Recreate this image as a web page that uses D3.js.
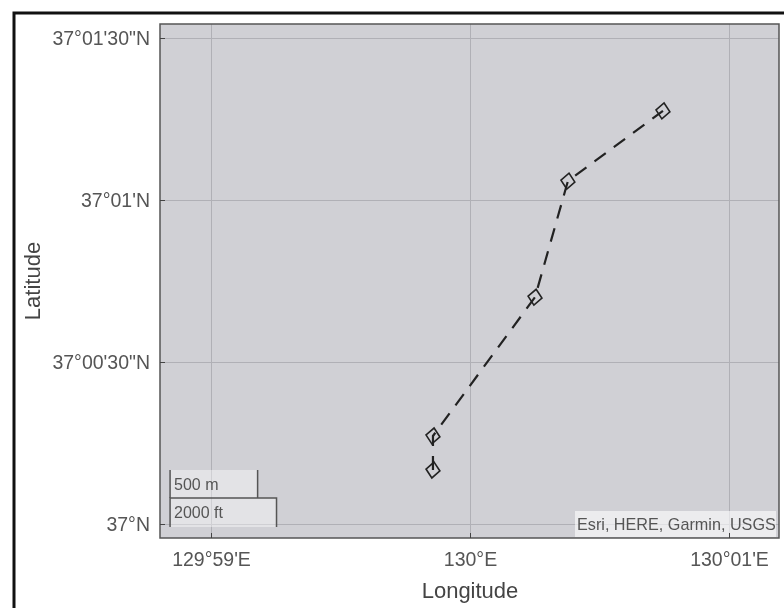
<!DOCTYPE html>
<html lang="en">
<meta charset="utf-8">
<style>
html, body { margin: 0; padding: 0; background: #fff; }
svg { display: block; filter: blur(0.6px); }
text { font-family: "Liberation Sans", Arial, sans-serif; }
.axis text { font-size: 19.5px; fill: #555; }
.axis .domain { display: none; }
.grid line { stroke: #b0b0b6; stroke-width: 1; }
.grid .domain { display: none; }
.grid text { display: none; }
.title { font-size: 22px; fill: #444; }
</style>
<body>
<svg width="784" height="608"></svg>
<script src="https://d3js.org/d3.v7.min.js"></script>
<script>

// longitude in minutes from 130E, latitude in seconds from 37N
var lonTicks = [-1, 0, 1];
var lonLabels = ["129°59'E", "130°E", "130°01'E"];
var latTicks = [0, 30, 60, 90];
var latLabels = ["37°N", "37°00'30\"N", "37°01'N", "37°01'30\"N"];

var trackLon = [-0.143, -0.143, 0.251, 0.378, 0.745];
var trackLat = [10, 16.3, 42, 63.5, 76.5];

var scaleNames = ["500 m", "2000 ft"];
var scaleLengths = [0.338, 0.411];
var credit = "Esri, HERE, Garmin, USGS";

var svg = d3.select("svg");
var plot = { left: 160, right: 779, top: 24, bottom: 538 };

var x = d3.scaleLinear().domain([-1, 1]).range([211, 729]);
var y = d3.scaleLinear().domain([0, 90]).range([524, 38]);

// outer frame of the screenshot
svg.append("path")
    .attr("d", "M14,608V13H784")
    .attr("fill", "none")
    .attr("stroke", "#111")
    .attr("stroke-width", 3);

svg.append("rect")
    .attr("x", plot.left)
    .attr("y", plot.top)
    .attr("width", plot.right - plot.left)
    .attr("height", plot.bottom - plot.top)
    .attr("fill", "#d0d0d5");

// grid
svg.append("g")
    .attr("class", "grid")
    .attr("transform", "translate(0," + plot.bottom + ")")
    .call(d3.axisBottom(x).tickValues(lonTicks).tickSize(-(plot.bottom - plot.top)));
svg.append("g")
    .attr("class", "grid")
    .attr("transform", "translate(" + plot.left + ",0)")
    .call(d3.axisLeft(y).tickValues(latTicks).tickSize(-(plot.right - plot.left)));

// scale bars, longest drawn last
var barLeft = -1.158;
var barTop = [470, 498];
var barHeight = [28, 29];
var bars = svg.append("g").selectAll("g")
    .data(scaleNames)
  .enter().append("g");

bars.append("rect")
    .attr("x", x(barLeft))
    .attr("y", function(d, i) { return barTop[i]; })
    .attr("width", function(d, i) { return x(barLeft + scaleLengths[i]) - x(barLeft); })
    .attr("height", function(d, i) { return barHeight[i]; })
    .attr("fill", "#fff")
    .attr("fill-opacity", 0.4);

bars.append("path")
    .attr("d", function(d, i) {
      var l = x(barLeft), r = x(barLeft + scaleLengths[i]), t = barTop[i], b = t + barHeight[i];
      return "M" + l + "," + b + "V" + t + (i ? "H" + r : "M" + r + "," + t) + "V" + b;
    })
    .attr("fill", "none")
    .attr("stroke", "#555")
    .attr("stroke-width", 1.5);

bars.append("text")
    .attr("x", x(barLeft) + 4)
    .attr("y", function(d, i) { return barTop[i] + 20; })
    .attr("font-size", 16)
    .attr("fill", "#555")
    .text(function(d) { return d; });

// attribution
svg.append("rect")
    .attr("x", 575)
    .attr("y", 511)
    .attr("width", 201)
    .attr("height", 26)
    .attr("fill", "#fff")
    .attr("fill-opacity", 0.6);
svg.append("text")
    .attr("x", 577)
    .attr("y", 530)
    .attr("font-size", 16.2)
    .attr("fill", "#555")
    .text(credit);

// plot border
svg.append("rect")
    .attr("x", plot.left)
    .attr("y", plot.top)
    .attr("width", plot.right - plot.left)
    .attr("height", plot.bottom - plot.top)
    .attr("fill", "none")
    .attr("stroke", "#555")
    .attr("stroke-width", 1.5);

// tick labels and the short inward ticks
var xAxis = svg.append("g")
    .attr("class", "axis")
    .attr("transform", "translate(0," + plot.bottom + ")")
    .call(d3.axisBottom(x).tickValues(lonTicks).tickSize(-5)
      .tickFormat(function(d, i) { return lonLabels[i]; }));
xAxis.selectAll("text").attr("y", 28).attr("dy", 0);
xAxis.selectAll("line").attr("stroke", "#444");

var yAxis = svg.append("g")
    .attr("class", "axis")
    .attr("transform", "translate(" + plot.left + ",0)")
    .call(d3.axisLeft(y).tickValues(latTicks).tickSize(-5)
      .tickFormat(function(d, i) { return latLabels[i]; }));
yAxis.selectAll("text").attr("x", -10);
yAxis.selectAll("line").attr("stroke", "#444");

var track = trackLon.map(function(d, i) { return [x(d), y(trackLat[i])]; });

svg.append("path")
    .attr("d", d3.line()(track))
    .attr("fill", "none")
    .attr("stroke", "#222")
    .attr("stroke-width", 2.2)
    .attr("stroke-dasharray", "14,10");

svg.selectAll(".marker")
    .data(track)
  .enter().append("path")
    .attr("class", "marker")
    .attr("transform", function(d) { return "translate(" + d[0] + "," + d[1] + ") rotate(8)"; })
    .attr("d", "M0,-8L7,0L0,8L-7,0Z")
    .attr("fill", "none")
    .attr("stroke", "#222")
    .attr("stroke-width", 1.6);

svg.append("text")
    .attr("class", "title")
    .attr("x", 470)
    .attr("y", 598)
    .attr("text-anchor", "middle")
    .text("Longitude");

svg.append("text")
    .attr("class", "title")
    .attr("transform", "translate(40,281) rotate(-90)")
    .attr("text-anchor", "middle")
    .text("Latitude");

</script>
</body>
</html>
